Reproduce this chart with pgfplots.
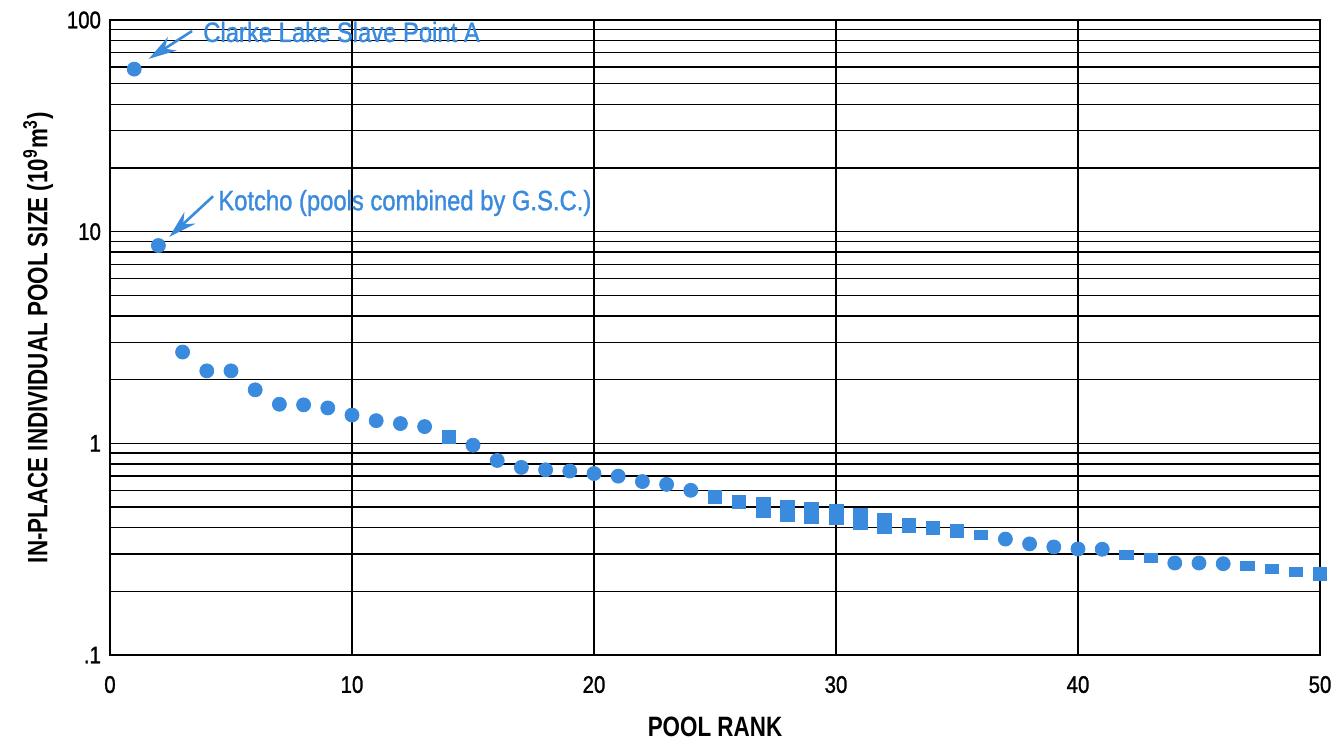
\documentclass[border=0pt]{standalone}
\usepackage{fontspec}
\setmainfont[FakeStretch=0.85]{Liberation Sans}
\newfontfamily\medfont[FakeStretch=0.85,FakeBold=1.2]{Liberation Sans}
\newfontfamily\labfont[FakeStretch=0.8]{Liberation Sans Bold}
\usepackage{pgfplots}
\pgfplotsset{compat=1.18}
\usetikzlibrary{arrows.meta}
\definecolor{dotblue}{RGB}{58,138,222}

\begin{document}
\begin{tikzpicture}
\begin{semilogyaxis}[
  scale only axis,
  width=605pt, height=317.5pt,
  xmin=0, xmax=50, ymin=0.1, ymax=100,
  xtick={0,10,...,50},
  ytick={0.1,1,10,100},
  yticklabels={.1,1,10,100},
  /pgf/number format/assume math mode=true,
  major tick length=0pt, minor tick length=0pt,
  xmajorgrids=true, ymajorgrids=true, yminorgrids=true,
  grid style={black, line width=0.8pt},
  minor grid style={black, line width=0.7pt},
  axis line style={black, line width=1pt},
  tick label style={font=\medfont\fontsize{12}{14}\selectfont},
  xticklabel style={yshift=-7pt},
  yticklabel style={xshift=-1pt},
  xlabel={POOL RANK},
  ylabel={IN-PLACE INDIVIDUAL POOL SIZE (10\textsuperscript{9}m\textsuperscript{3})},
  label style={font=\labfont\fontsize{14}{16}\selectfont},
  xlabel style={yshift=-5pt},
  ylabel style={yshift=0pt},
  clip=false,
]
% circles
\addplot[only marks, mark=*, mark size=3.5pt, color=dotblue] coordinates {
  (1,58.6) (2,8.6) (3,2.70) (4,2.20) (5,2.20) (6,1.79) (7,1.53) (8,1.52)
  (9,1.47) (10,1.36) (11,1.28) (12,1.24) (13,1.20) (15,0.98) (16,0.83)
  (17,0.77) (18,0.75) (19,0.74) (20,0.72) (21,0.70) (22,0.66) (23,0.64)
  (24,0.60) (37,0.353) (38,0.335) (39,0.324) (40,0.317) (41,0.316)
  (44,0.272) (45,0.272) (46,0.270)
};
% squares
\addplot[only marks, mark=square*, mark size=3.3pt, color=dotblue] coordinates {
  (14,1.07) (25,0.56) (26,0.53) (33,0.41) (34,0.40) (35,0.385) (50,0.242)
};
% tall rectangles
\addplot[only marks, mark=square*, mark size=3.5pt, color=dotblue,
  mark options={yscale=1.45}] coordinates {
  (27,0.50) (28,0.48) (29,0.47) (30,0.46) (31,0.44) (32,0.42)
};
% flat rectangles
\addplot[only marks, mark=square*, mark size=3.3pt, color=dotblue,
  mark options={yscale=0.65}] coordinates {
  (36,0.37) (42,0.297) (43,0.288) (47,0.264) (48,0.255) (49,0.247)
};
\node[anchor=west, text=dotblue, font=\medfont\fontsize{14}{16}\selectfont, inner sep=0pt]
  at (axis cs:3.84,87.8) {Clarke Lake Slave Point A};
\node[anchor=west, text=dotblue, font=\medfont\fontsize{14}{16}\selectfont, inner sep=0pt]
  at (axis cs:4.46,13.66) {Kotcho (pools combined by G.S.C.)};
\draw[dotblue, line width=1.3pt, -{Stealth[length=14pt, width=8pt]}]
  (axis cs:3.39,88.7) -- (axis cs:1.6,65.5);
\draw[dotblue, line width=1.3pt, -{Stealth[length=14pt, width=8pt]}]
  (axis cs:4.26,14.7) -- (axis cs:2.45,9.45);
\end{semilogyaxis}
\pgfresetboundingbox
\useasboundingbox (-55pt,-45.5pt) rectangle (617pt,327.5pt);
\end{tikzpicture}
\end{document}
